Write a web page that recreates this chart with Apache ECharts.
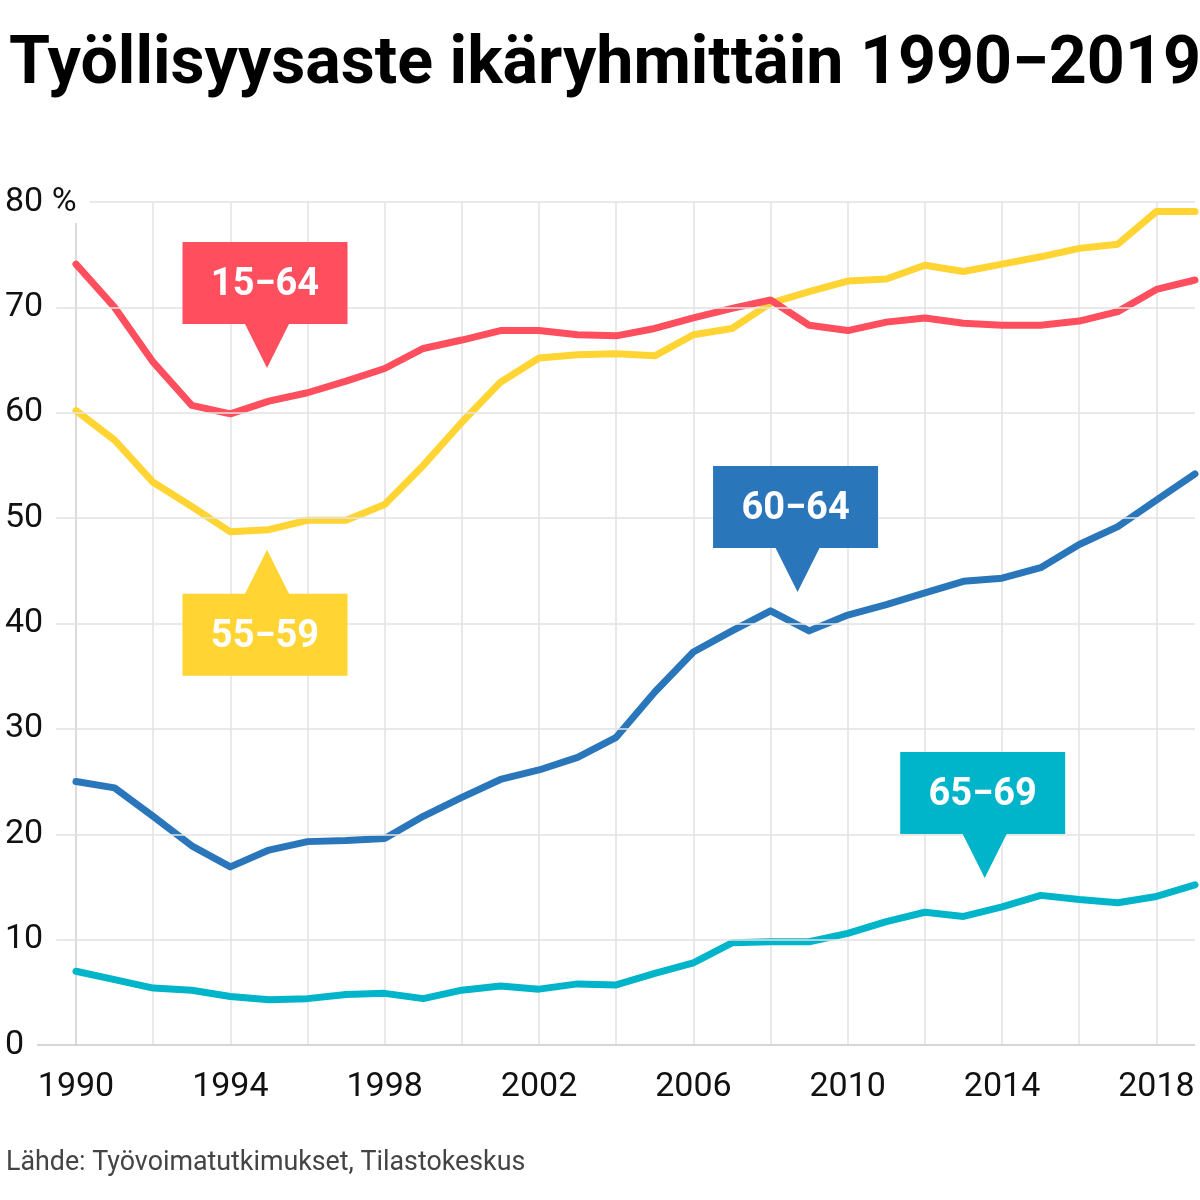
<!DOCTYPE html>
<html>
<head>
<meta charset="utf-8">
<script src="https://cdn.jsdelivr.net/npm/echarts@6/dist/echarts.min.js"></script>
<style>
  html, body { margin: 0; padding: 0; background: #fff; }
  #chart { width: 1200px; height: 1200px; }
</style>
</head>
<body>
<div id="chart"></div>
<script>
const years = [1990, 1991, 1992, 1993, 1994, 1995, 1996, 1997, 1998, 1999,
               2000, 2001, 2002, 2003, 2004, 2005, 2006, 2007, 2008, 2009,
               2010, 2011, 2012, 2013, 2014, 2015, 2016, 2017, 2018, 2019];
const age15_64 = [74.1, 70.0, 64.8, 60.7, 59.9, 61.1, 61.9, 63.0, 64.2, 66.1,
                  66.9, 67.8, 67.8, 67.4, 67.3, 68.0, 69.0, 69.9, 70.7, 68.3,
                  67.8, 68.6, 69.0, 68.5, 68.3, 68.3, 68.7, 69.6, 71.7, 72.6];
const age55_59 = [60.2, 57.4, 53.4, 51.1, 48.7, 48.9, 49.8, 49.8, 51.3, 55.0,
                  59.1, 62.9, 65.2, 65.5, 65.6, 65.4, 67.4, 68.0, 70.4, 71.5,
                  72.5, 72.7, 74.0, 73.4, 74.1, 74.8, 75.6, 76.0, 79.1, 79.1];
const age60_64 = [25.0, 24.4, 21.7, 18.9, 16.9, 18.5, 19.3, 19.4, 19.6, 21.7,
                  23.5, 25.2, 26.1, 27.3, 29.2, 33.5, 37.3, 39.3, 41.2, 39.3,
                  40.8, 41.8, 42.9, 44.0, 44.3, 45.3, 47.5, 49.2, 51.7, 54.2];
const age65_69 = [7.0, 6.2, 5.4, 5.2, 4.6, 4.3, 4.4, 4.8, 4.9, 4.4,
                  5.2, 5.6, 5.3, 5.8, 5.7, 6.8, 7.8, 9.7, 9.8, 9.8,
                  10.6, 11.7, 12.6, 12.2, 13.1, 14.2, 13.8, 13.5, 14.1, 15.2];
const seriesNames = ['15−64', '55−59', '60−64', '65−69'];
const xTickLabels = [1990, 1994, 1998, 2002, 2006, 2010, 2014, 2018];
const yTickLabels = ['0', '10', '20', '30', '40', '50', '60', '70', '80 %'];

// annotation anchors (tip of the callout) in data coordinates
const calloutAnchors = [
  { series: '15−64', year: 1994.95, value: 64.25, dir: 'down' },
  { series: '55−59', year: 1994.95, value: 47.0, dir: 'up' },
  { series: '60−64', year: 2008.7, value: 43.0, dir: 'down' },
  { series: '65−69', year: 2013.55, value: 15.85, dir: 'down' }
];

const colors = { '15−64': '#ff4f5e', '55−59': '#ffd433', '60−64': '#2a76bb', '65−69': '#00b4c9' };
const FONT = 'Roboto, "Noto Sans", sans-serif';

const downPath = 'path://M0,0L165,0L165,82L106.5,82L84.5,126L62.5,82L0,82Z';
const upPath = 'path://M0,44L62.5,44L84.5,0L106.5,44L165,44L165,126L0,126Z';

function makeMarkPoint(name) {
  const a = calloutAnchors.find(c => c.series === name);
  const up = a.dir === 'up';
  return {
    silent: true,
    animation: false,
    data: [{
      name: name,
      coord: [a.year, a.value],
      symbol: up ? upPath : downPath,
      symbolSize: [165, 126],
      symbolKeepAspect: false,
      symbolOffset: [-2, up ? 63 : -63],
      itemStyle: { color: colors[name] },
      label: {
        show: true,
        position: 'inside',
        offset: [0, up ? 24.5 : -19],
        formatter: '{b}',
        color: '#ffffff',
        fontFamily: FONT,
        fontWeight: 'bold',
        fontSize: 38
      }
    }]
  };
}

const valuesByName = {
  '15−64': age15_64, '55−59': age55_59, '60−64': age60_64, '65−69': age65_69
};
const drawOrder = ['65−69', '60−64', '55−59', '15−64'];

const series = drawOrder.map(name => ({
  name: name,
  type: 'line',
  xAxisIndex: 1,
  yAxisIndex: 1,
  data: years.map((y, i) => [y, valuesByName[name][i]]),
  showSymbol: false,
  symbol: 'none',
  lineStyle: { color: colors[name], width: 7, cap: 'round', join: 'round' },
  itemStyle: { color: colors[name] },
  animation: false,
  clip: false,
  z: 3,
  markPoint: makeMarkPoint(name)
}));

const yGridColors = ['#c8c8c8'].concat(new Array(8).fill('#e2e2e2'));
// 1990..2018 every 2 years (15 lines), then the extent line at 2019 hidden
const xGridColors = ['#cfcfcf'].concat(new Array(14).fill('#e2e2e2')).concat(['rgba(0,0,0,0)']);

const chart = echarts.init(document.getElementById('chart'), null, { renderer: 'canvas' });
chart.setOption({
  backgroundColor: '#ffffff',
  animation: false,
  title: [{
    text: 'Työllisyysaste ikäryhmittäin 1990−2019',
    left: 4,
    top: 28,
    textStyle: { fontFamily: FONT, fontWeight: 'bold', fontSize: 66.3, color: '#000000' }
  }, {
    text: 'Lähde: Työvoimatutkimukset, Tilastokeskus',
    left: 1,
    top: 1145,
    textStyle: { fontFamily: FONT, fontWeight: 'normal', fontSize: 26.8, color: '#444444' }
  }],
  grid: [
    { left: 5, right: 5, top: 202, bottom: 155 },
    { left: 76, right: 5, top: 202, bottom: 155 }
  ],
  xAxis: [
    { type: 'value', gridIndex: 0, min: 0, max: 1, show: false },
    {
      type: 'value', gridIndex: 1, min: 1990, max: 2019, interval: 2,
      axisLine: { show: false },
      axisTick: { show: false },
      splitLine: { show: true, lineStyle: { color: xGridColors, width: 1.5 } },
      axisLabel: {
        margin: 25,
        showMaxLabel: false,
        fontFamily: FONT, fontSize: 34, color: '#111111',
        formatter: v => xTickLabels.indexOf(v) >= 0 ? String(v) : ''
      }
    }
  ],
  yAxis: [
    {
      type: 'value', gridIndex: 0, min: 0, max: 80, interval: 10,
      z: 4,
      axisLine: { show: false },
      axisTick: { show: false },
      splitLine: { show: true, lineStyle: { color: yGridColors, width: 1.5 } },
      axisLabel: {
        inside: true,
        margin: 0,
        fontFamily: FONT, fontSize: 34, color: '#111111',
        backgroundColor: '#ffffff',
        padding: [4, 13, 4, 0],
        formatter: v => yTickLabels[Math.round(v / 10)]
      }
    },
    { type: 'value', gridIndex: 1, min: 0, max: 80, interval: 10, show: false, splitLine: { show: false } }
  ],
  series: [{
    type: 'line', xAxisIndex: 0, yAxisIndex: 0, data: [], silent: true
  }].concat(series)
});
</script>
</body>
</html>
